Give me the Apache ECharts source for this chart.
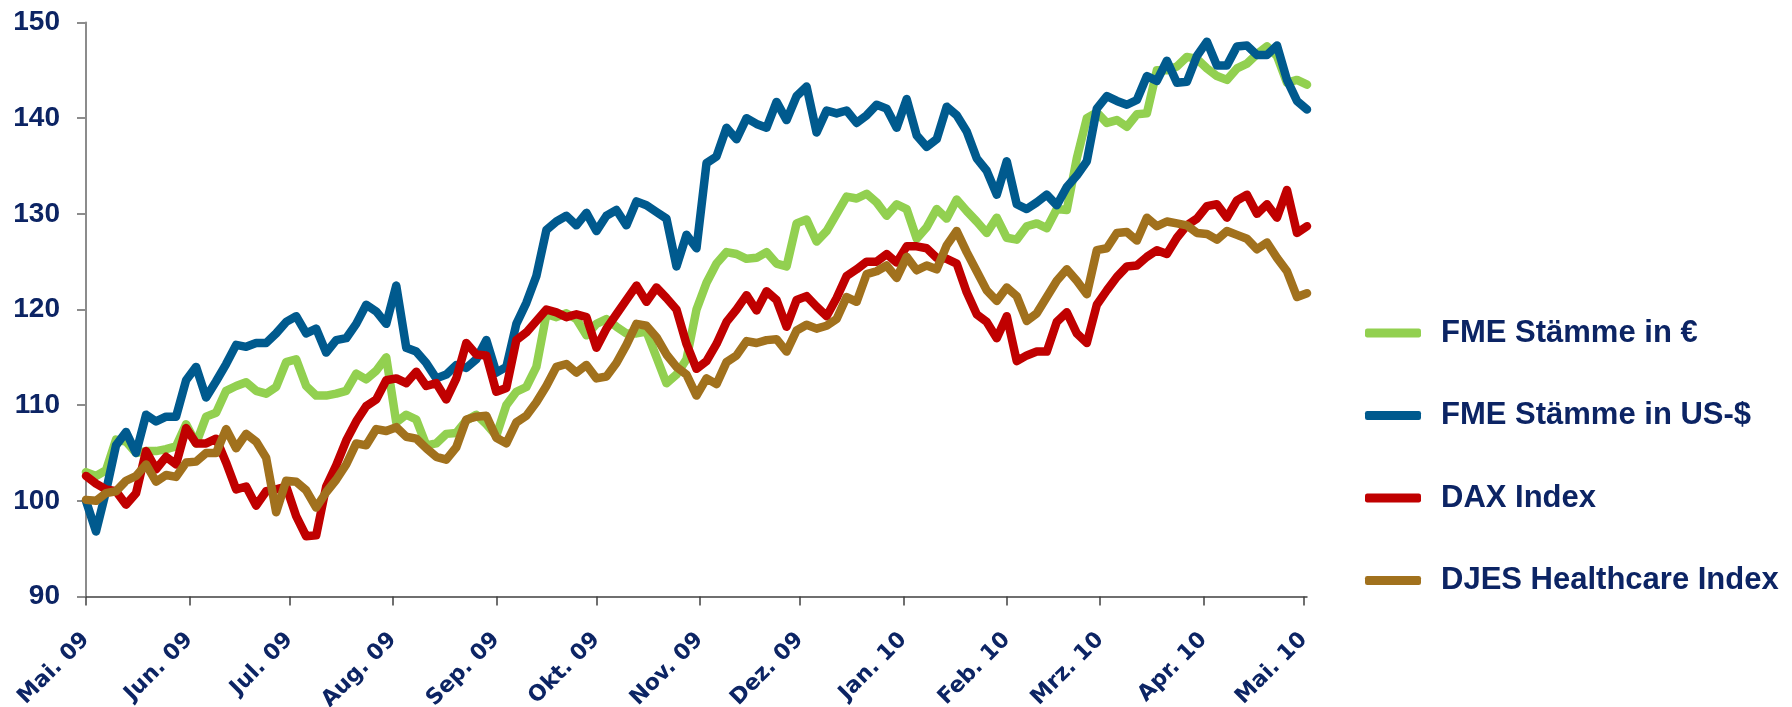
<!DOCTYPE html>
<html>
<head>
<meta charset="utf-8">
<title>FME Stämme – Kursentwicklung</title>
<script src="https://cdn.jsdelivr.net/npm/echarts@6.0.0/dist/echarts.min.js"></script>
<style>
  html, body { margin: 0; padding: 0; background: #fff; }
  #chart { width: 1792px; height: 707px; }
</style>
</head>
<body>
<div id="chart"></div>
<script>
// Stichtage (alle 3 Kalendertage), Werte indexiert auf 100
const dates = [
  '2009-05-01','2009-05-04','2009-05-07','2009-05-10','2009-05-13','2009-05-16','2009-05-19','2009-05-22','2009-05-25','2009-05-28',
  '2009-05-31','2009-06-03','2009-06-06','2009-06-09','2009-06-12','2009-06-15','2009-06-18','2009-06-21','2009-06-24','2009-06-27',
  '2009-06-30','2009-07-03','2009-07-06','2009-07-09','2009-07-12','2009-07-15','2009-07-18','2009-07-21','2009-07-24','2009-07-27',
  '2009-07-30','2009-08-02','2009-08-05','2009-08-08','2009-08-11','2009-08-14','2009-08-17','2009-08-20','2009-08-23','2009-08-26',
  '2009-08-29','2009-09-01','2009-09-04','2009-09-07','2009-09-10','2009-09-13','2009-09-16','2009-09-19','2009-09-22','2009-09-25',
  '2009-09-28','2009-10-01','2009-10-04','2009-10-07','2009-10-10','2009-10-13','2009-10-16','2009-10-19','2009-10-22','2009-10-25',
  '2009-10-28','2009-10-31','2009-11-03','2009-11-06','2009-11-09','2009-11-12','2009-11-15','2009-11-18','2009-11-21','2009-11-24',
  '2009-11-27','2009-11-30','2009-12-03','2009-12-06','2009-12-09','2009-12-12','2009-12-15','2009-12-18','2009-12-21','2009-12-24',
  '2009-12-27','2009-12-30','2010-01-02','2010-01-05','2010-01-08','2010-01-11','2010-01-14','2010-01-17','2010-01-20','2010-01-23',
  '2010-01-26','2010-01-29','2010-02-01','2010-02-04','2010-02-07','2010-02-10','2010-02-13','2010-02-16','2010-02-19','2010-02-22',
  '2010-02-25','2010-02-28','2010-03-03','2010-03-06','2010-03-09','2010-03-12','2010-03-15','2010-03-18','2010-03-21','2010-03-24',
  '2010-03-27','2010-03-30','2010-04-02','2010-04-05','2010-04-08','2010-04-11','2010-04-14','2010-04-17','2010-04-20','2010-04-23',
  '2010-04-26','2010-04-29','2010-05-02'
];

// FME Stämme in €
const fmeEur = [
  103, 102.6, 103.2, 106.4, 106.2, 105, 105.2, 105.2, 105.4, 105.7,
  108, 106, 108.8, 109.2, 111.5, 112, 112.4, 111.5, 111.2, 111.9,
  114.5, 114.8, 112, 111, 111, 111.2, 111.5, 113.3, 112.7, 113.6,
  115, 108.2, 109, 108.5, 105.8, 106, 107, 107.1, 108.4, 109,
  108, 106.8, 110, 111.4, 111.9, 114, 119.5, 119.2, 119.6, 119,
  117.3, 118.5, 119, 118.2, 117.5, 117.5, 117.7, 115, 112.3, 113.2,
  114.8, 120, 122.8, 124.8, 126, 125.8, 125.3, 125.4, 126, 124.8,
  124.5, 129, 129.4, 127.1, 128.2, 130, 131.8, 131.6, 132.1, 131.2,
  129.8, 131, 130.5, 127.4, 128.6, 130.5, 129.5, 131.5, 130.3, 129.2,
  128, 129.6, 127.5, 127.3, 128.7, 129, 128.5, 130.5, 130.4, 135.8,
  140, 140.6, 139.5, 139.8, 139.1, 140.4, 140.5, 145, 145, 145.4,
  146.4, 146.2, 145.2, 144.4, 144, 145.2, 145.7, 146.7, 147.5, 146.5,
  143.7, 144, 143.5
];

// FME Stämme in US-$
const fmeUsd = [
  100, 96.8, 101, 105.8, 107.2, 105, 109, 108.3, 108.8, 108.8,
  112.6, 114, 110.8, 112.5, 114.3, 116.3, 116.1, 116.5, 116.5, 117.5,
  118.7, 119.3, 117.5, 118, 115.5, 116.8, 117, 118.5, 120.5, 119.8,
  118.5, 122.5, 116, 115.6, 114.4, 112.8, 113.2, 114.2, 113.9, 114.8,
  116.8, 113.4, 114, 118.5, 120.7, 123.5, 128.3, 129.2, 129.8, 128.8,
  130.1, 128.2, 129.8, 130.4, 128.8, 131.3, 130.9, 130.2, 129.5, 124.5,
  127.8, 126.4, 135.3, 136, 139, 137.8, 140, 139.4, 139, 141.7,
  139.8, 142.3, 143.3, 138.5, 140.8, 140.5, 140.8, 139.5, 140.3, 141.4,
  141, 139, 142, 138.2, 137, 137.8, 141.2, 140.3, 138.6, 135.8,
  134.5, 132, 135.5, 131, 130.5, 131.2, 132, 130.9, 132.8, 134,
  135.5, 141, 142.3, 141.8, 141.4, 141.9, 144.4, 143.9, 146, 143.7,
  143.8, 146.5, 148, 145.5, 145.5, 147.5, 147.6, 146.6, 146.6, 147.6,
  144, 141.8, 140.9
];

// DAX Index
const dax = [
  102.6, 101.8, 101.2, 101, 99.6, 100.8, 105.2, 103.3, 104.6, 103.8,
  107.6, 106, 106, 106.5, 104, 101.2, 101.5, 99.5, 101, 101.2,
  101.5, 98.4, 96.3, 96.4, 101.5, 103.7, 106.3, 108.3, 109.9, 110.6,
  112.6, 112.8, 112.3, 113.5, 112, 112.3, 110.6, 112.8, 116.5, 115.3,
  115.2, 111.4, 111.8, 116.8, 117.6, 118.8, 120, 119.7, 119.2, 119.5,
  119.2, 116, 118, 119.5, 121, 122.5, 120.8, 122.3, 121.2, 120,
  116.4, 113.8, 114.6, 116.4, 118.7, 120, 121.5, 119.9, 121.9, 121,
  118.2, 121, 121.4, 120.3, 119.3, 121.2, 123.5, 124.2, 125, 125,
  125.8, 124.9, 126.6, 126.6, 126.4, 125.4, 125.3, 124.8, 121.8, 119.5,
  118.7, 117, 119.3, 114.6, 115.2, 115.6, 115.6, 118.7, 119.7, 117.5,
  116.5, 120.5, 122, 123.4, 124.5, 124.6, 125.5, 126.2, 125.8, 127.5,
  128.8, 129.5, 130.8, 131, 129.6, 131.4, 132, 130, 131, 129.6,
  132.5, 128, 128.7
];

// DJES Healthcare Index
const djes = [
  100.1, 100, 100.8, 101, 102.1, 102.6, 103.8, 102, 102.7, 102.5,
  104, 104.1, 105, 105, 107.5, 105.5, 107, 106.2, 104.5, 98.8,
  102.1, 102, 101.1, 99.3, 100.9, 102.2, 103.8, 106, 105.8, 107.5,
  107.3, 107.7, 106.7, 106.5, 105.5, 104.6, 104.3, 105.6, 108.5, 108.8,
  108.9, 106.6, 106, 108.2, 108.9, 110.3, 112, 114, 114.3, 113.4,
  114.2, 112.8, 113, 114.4, 116.3, 118.5, 118.3, 117.1, 115.3, 114,
  113.2, 111, 112.8, 112.2, 114.5, 115.2, 116.7, 116.5, 116.8, 116.9,
  115.6, 117.8, 118.4, 118, 118.3, 119, 121.3, 120.8, 123.7, 124,
  124.6, 123.3, 125.5, 124.1, 124.6, 124.2, 126.7, 128.2, 126, 124,
  122, 120.9, 122.3, 121.4, 118.8, 119.6, 121.3, 123, 124.2, 123,
  121.6, 126.2, 126.4, 128, 128.1, 127.2, 129.6, 128.7, 129.2, 129,
  128.8, 128, 127.9, 127.3, 128.2, 127.8, 127.4, 126.3, 127, 125.4,
  124, 121.3, 121.7
];

// Achsenbeschriftung: Monatsanfänge
const monthStarts = [
  '2009-05-01','2009-06-01','2009-07-01','2009-08-01','2009-09-01','2009-10-01','2009-11-01',
  '2009-12-01','2010-01-01','2010-02-01','2010-03-01','2010-04-01','2010-05-01'
];
const monthLabels = [
  'Mai. 09','Jun. 09','Jul. 09','Aug. 09','Sep. 09','Okt. 09','Nov. 09',
  'Dez. 09','Jan. 10','Feb. 10','Mrz. 10','Apr. 10','Mai. 10'
];
const yTicks = [90, 100, 110, 120, 130, 140, 150];

const NAVY = '#0c2464';

// Datum -> Zeitstempel (UTC), x-Achse als Zahlenachse in ms
const toTime = (s) => {
  const [y, m, d] = s.split('-').map(Number);
  return Date.UTC(y, m - 1, d);
};
const tickTimes = monthStarts.map(toTime);
const pairs = (vals) => dates.map((d, i) => [toTime(d), vals[i]]);

const makeSeries = (name, vals, color) => ({
  name: name,
  type: 'line',
  data: pairs(vals),
  showSymbol: false,
  symbol: 'none',
  color: color,
  lineStyle: { color: color, width: 8.5, cap: 'round', join: 'round' },
  emphasis: { disabled: true }
});

const chart = echarts.init(document.getElementById('chart'));
chart.setOption({
  animation: false,
  backgroundColor: '#ffffff',
  grid: {
    left: 86,
    right: 485,
    top: 22.5,
    bottom: 110.5,
    containLabel: false,
    outerBoundsMode: 'none'
  },
  legend: {
    orient: 'vertical',
    left: 1365,
    top: 313,
    padding: 0,
    itemWidth: 56,
    itemHeight: 9,
    itemGap: 42.5,
    icon: 'roundRect',
    selectedMode: false,
    textStyle: {
      fontFamily: 'Liberation Sans',
      fontWeight: 'bold',
      fontSize: 31,
      color: NAVY,
      lineHeight: 40,
      padding: [0, 0, 0, 15]
    },
    data: ['FME Stämme in €', 'FME Stämme in US-$', 'DAX Index', 'DJES Healthcare Index']
  },
  xAxis: {
    type: 'value',
    min: toTime('2009-05-01'),
    max: toTime('2010-05-02'),
    axisLine: { onZero: false, lineStyle: { color: '#404040', width: 1.5 } },
    axisTick: {
      show: true,
      customValues: tickTimes,
      length: 9,
      lineStyle: { color: '#404040', width: 1.5 }
    },
    axisLabel: {
      customValues: tickTimes,
      rotate: 45,
      margin: 40,
      fontFamily: 'DejaVu Sans',
      fontWeight: 'bold',
      fontSize: 22,
      color: NAVY,
      hideOverlap: false,
      formatter: (value) => {
        const idx = tickTimes.indexOf(value);
        return idx >= 0 ? monthLabels[idx] : '';
      }
    },
    splitLine: { show: false }
  },
  yAxis: {
    type: 'value',
    min: yTicks[0],
    max: yTicks[yTicks.length - 1],
    interval: 10,
    axisLine: { show: true, lineStyle: { color: '#8c8c8c', width: 2 } },
    axisTick: { show: true, length: 9, lineStyle: { color: '#8c8c8c', width: 2 } },
    axisLabel: {
      margin: 26,
      fontFamily: 'Liberation Sans',
      fontWeight: 'bold',
      fontSize: 28,
      color: NAVY
    },
    splitLine: { show: false }
  },
  series: [
    makeSeries('FME Stämme in €', fmeEur, '#92d050'),
    makeSeries('FME Stämme in US-$', fmeUsd, '#005a8e'),
    makeSeries('DAX Index', dax, '#c00000'),
    makeSeries('DJES Healthcare Index', djes, '#a1711d')
  ]
});
</script>
</body>
</html>
